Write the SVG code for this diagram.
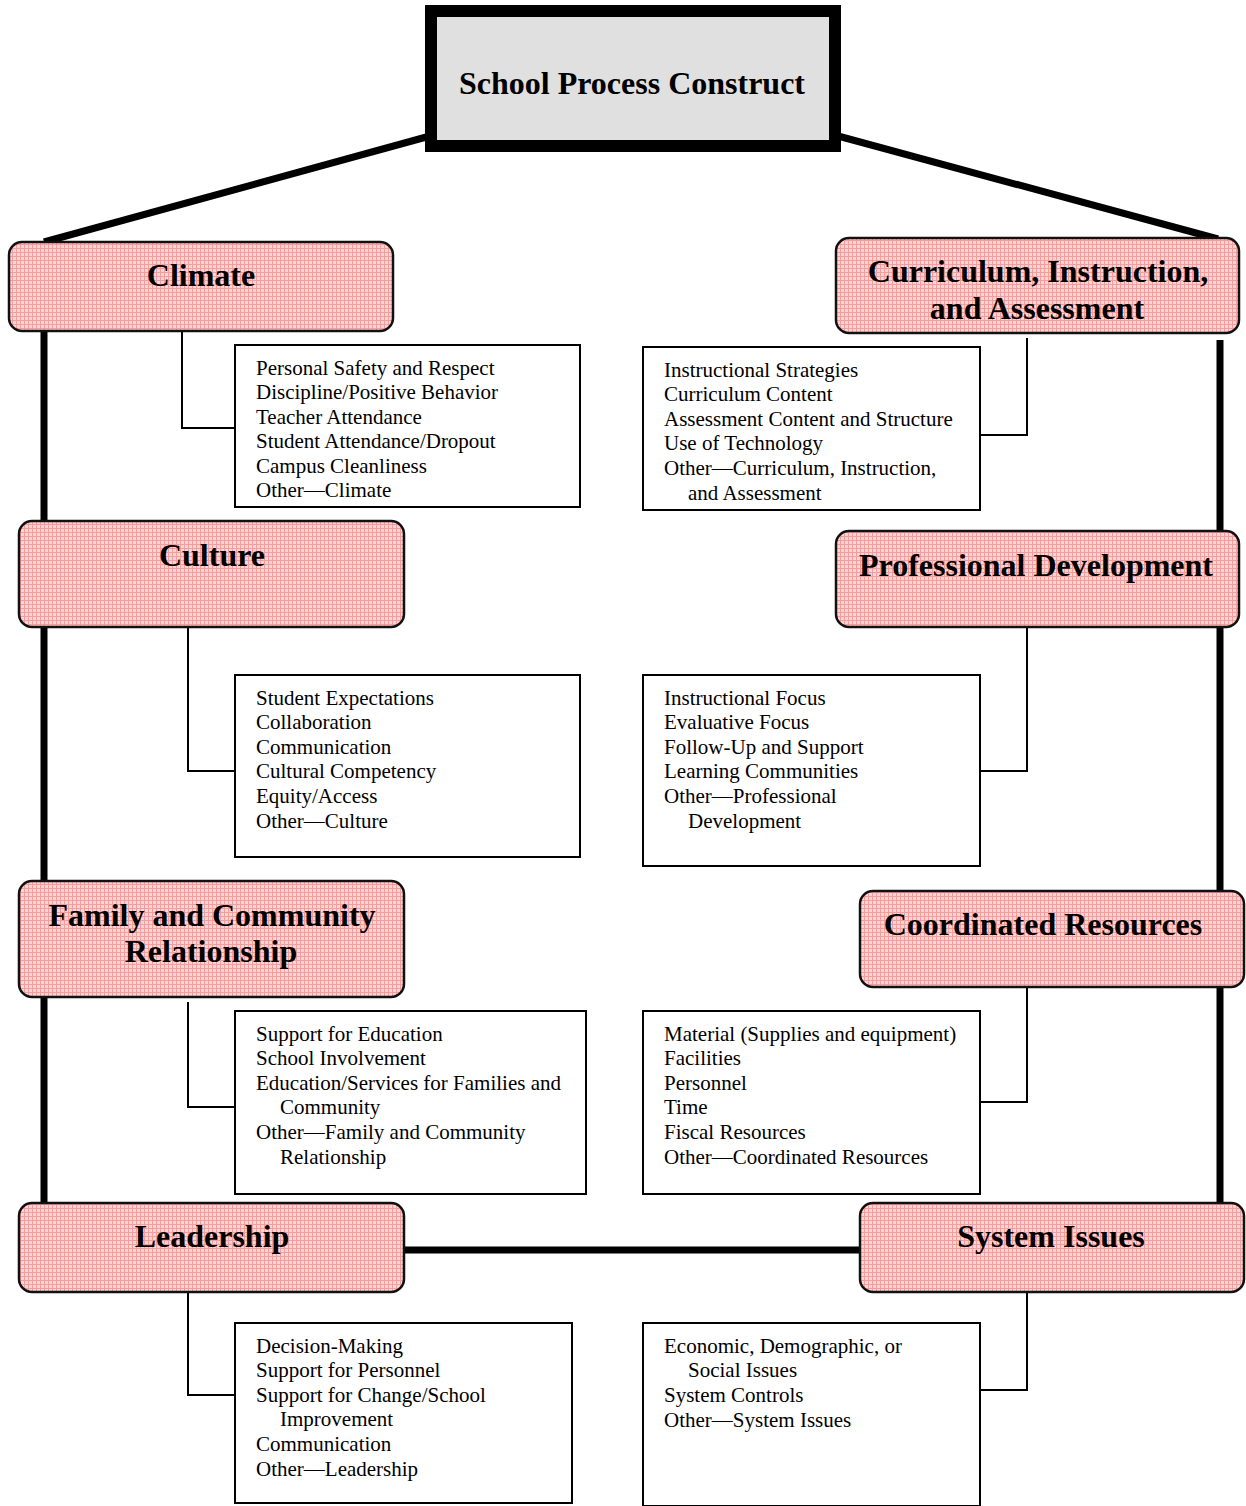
<svg xmlns="http://www.w3.org/2000/svg" width="1246" height="1506" viewBox="0 0 1246 1506">
<defs>
<pattern id="pink" width="4" height="4" patternUnits="userSpaceOnUse">
<rect width="4" height="4" fill="#ffd4d4"/>
<rect width="4" height="1" fill="#f59c9c"/>
<rect width="1" height="4" fill="#f59c9c"/>
</pattern>
</defs>
<style>
.cat{fill:url(#pink);stroke:#111;stroke-width:2.5}
.list{fill:#fff;stroke:#000;stroke-width:2}
.thick{stroke:#000;stroke-width:7;fill:none}
.thin{stroke:#000;stroke-width:2;fill:none}
.h{font-family:"Liberation Serif","Times New Roman",serif;font-weight:bold;font-size:32px;text-anchor:middle;fill:#000}
.t{font-family:"Liberation Serif","Times New Roman",serif;font-size:21px;fill:#000}
</style>
<rect width="1246" height="1506" fill="#fff"/>
<g id="connectors">
<line class="thick" x1="430" y1="136" x2="44" y2="242" stroke-width="6"/>
<line class="thick" x1="838" y1="136" x2="1218" y2="239" stroke-width="6"/>
<line class="thick" x1="44" y1="329" x2="44" y2="1205"/>
<line class="thick" x1="1220" y1="340" x2="1220" y2="1205"/>
<line class="thick" x1="402" y1="1250" x2="862" y2="1250"/>
<polyline class="thin" points="182,331 182,428 235,428"/>
<polyline class="thin" points="1027,338 1027,435 980,435"/>
<polyline class="thin" points="188,627 188,771 235,771"/>
<polyline class="thin" points="1027,627 1027,771 980,771"/>
<polyline class="thin" points="188,1002 188,1107 235,1107"/>
<polyline class="thin" points="1027,983 1027,1102 980,1102"/>
<polyline class="thin" points="188,1292 188,1395 235,1395"/>
<polyline class="thin" points="1027,1290 1027,1390 980,1390"/>
</g>
<g id="school-process-construct">
<rect x="431" y="11" width="404" height="135" fill="#e0e0e0" stroke="#000" stroke-width="12"/>
<text class="h" x="632" y="94">School Process Construct</text>
</g>
<g id="climate">
<rect class="cat" x="9" y="242" width="384" height="89" rx="13"/>
<text class="h" x="201" y="286">Climate</text>
</g>
<g id="climate-list">
<rect class="list" x="235" y="345" width="345" height="162"/>
<text class="t" x="256" y="375">Personal Safety and Respect</text>
<text class="t" x="256" y="399">Discipline/Positive Behavior</text>
<text class="t" x="256" y="424">Teacher Attendance</text>
<text class="t" x="256" y="448">Student Attendance/Dropout</text>
<text class="t" x="256" y="473">Campus Cleanliness</text>
<text class="t" x="256" y="497">Other—Climate</text>
</g>
<g id="cia">
<rect class="cat" x="836" y="238" width="403" height="95" rx="13"/>
<text class="h" x="1038" y="282">Curriculum, Instruction,</text>
<text class="h" x="1037" y="319">and Assessment</text>
</g>
<g id="cia-list">
<rect class="list" x="643" y="347" width="337" height="163"/>
<text class="t" x="664" y="377">Instructional Strategies</text>
<text class="t" x="664" y="401">Curriculum Content</text>
<text class="t" x="664" y="426">Assessment Content and Structure</text>
<text class="t" x="664" y="450">Use of Technology</text>
<text class="t" x="664" y="475">Other—Curriculum, Instruction,</text>
<text class="t" x="688" y="500">and Assessment</text>
</g>
<g id="culture">
<rect class="cat" x="19" y="521" width="385" height="106" rx="13"/>
<text class="h" x="212" y="566">Culture</text>
</g>
<g id="culture-list">
<rect class="list" x="235" y="675" width="345" height="182"/>
<text class="t" x="256" y="705">Student Expectations</text>
<text class="t" x="256" y="729">Collaboration</text>
<text class="t" x="256" y="754">Communication</text>
<text class="t" x="256" y="778">Cultural Competency</text>
<text class="t" x="256" y="803">Equity/Access</text>
<text class="t" x="256" y="828">Other—Culture</text>
</g>
<g id="professional-development">
<rect class="cat" x="836" y="531" width="403" height="96" rx="13"/>
<text class="h" x="1036" y="576">Professional Development</text>
</g>
<g id="pd-list">
<rect class="list" x="643" y="675" width="337" height="191"/>
<text class="t" x="664" y="705">Instructional Focus</text>
<text class="t" x="664" y="729">Evaluative Focus</text>
<text class="t" x="664" y="754">Follow-Up and Support</text>
<text class="t" x="664" y="778">Learning Communities</text>
<text class="t" x="664" y="803">Other—Professional</text>
<text class="t" x="688" y="828">Development</text>
</g>
<g id="family-community">
<rect class="cat" x="19" y="881" width="385" height="116" rx="13"/>
<text class="h" x="212" y="926">Family and Community</text>
<text class="h" x="211" y="962">Relationship</text>
</g>
<g id="family-list">
<rect class="list" x="235" y="1011" width="351" height="183"/>
<text class="t" x="256" y="1041">Support for Education</text>
<text class="t" x="256" y="1065">School Involvement</text>
<text class="t" x="256" y="1090">Education/Services for Families and</text>
<text class="t" x="280" y="1114">Community</text>
<text class="t" x="256" y="1139">Other—Family and Community</text>
<text class="t" x="280" y="1164">Relationship</text>
</g>
<g id="coordinated-resources">
<rect class="cat" x="860" y="891" width="384" height="96" rx="13"/>
<text class="h" x="1043" y="935">Coordinated Resources</text>
</g>
<g id="cr-list">
<rect class="list" x="643" y="1011" width="337" height="183"/>
<text class="t" x="664" y="1041">Material (Supplies and equipment)</text>
<text class="t" x="664" y="1065">Facilities</text>
<text class="t" x="664" y="1090">Personnel</text>
<text class="t" x="664" y="1114">Time</text>
<text class="t" x="664" y="1139">Fiscal Resources</text>
<text class="t" x="664" y="1164">Other—Coordinated Resources</text>
</g>
<g id="leadership">
<rect class="cat" x="19" y="1203" width="385" height="89" rx="13"/>
<text class="h" x="212" y="1247">Leadership</text>
</g>
<g id="leadership-list">
<rect class="list" x="235" y="1323" width="337" height="180"/>
<text class="t" x="256" y="1353">Decision-Making</text>
<text class="t" x="256" y="1377">Support for Personnel</text>
<text class="t" x="256" y="1402">Support for Change/School</text>
<text class="t" x="280" y="1426">Improvement</text>
<text class="t" x="256" y="1451">Communication</text>
<text class="t" x="256" y="1476">Other—Leadership</text>
</g>
<g id="system-issues">
<rect class="cat" x="860" y="1203" width="384" height="89" rx="13"/>
<text class="h" x="1051" y="1247">System Issues</text>
</g>
<g id="si-list">
<rect class="list" x="643" y="1323" width="337" height="183"/>
<text class="t" x="664" y="1353">Economic, Demographic, or</text>
<text class="t" x="688" y="1377">Social Issues</text>
<text class="t" x="664" y="1402">System Controls</text>
<text class="t" x="664" y="1427">Other—System Issues</text>
</g>
</svg>
